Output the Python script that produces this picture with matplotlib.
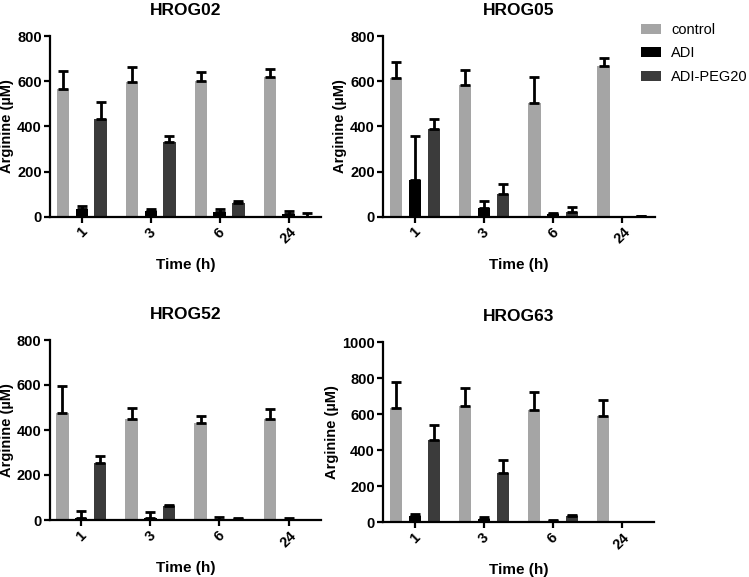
import matplotlib
matplotlib.use('Agg')
import matplotlib.pyplot as plt
import numpy as np

plt.rcParams['font.family'] = ['Liberation Sans', 'DejaVu Sans']

times = ['1', '3', '6', '24']
series = ['control', 'ADI', 'ADI-PEG20']
colors = ['#a5a5a5', '#000000', '#3b3b3b']

# HROG02
hrog02_control = [564, 595, 602, 620]
hrog02_control_err = [81, 67, 40, 33]
hrog02_adi = [34, 25, 21, 13]
hrog02_adi_err = [15, 10, 12, 12]
hrog02_peg = [431, 329, 62, 0]
hrog02_peg_err = [76, 27, 6, 15]

# HROG05
hrog05_control = [613, 582, 502, 667]
hrog05_control_err = [73, 68, 117, 36]
hrog05_adi = [164, 37, 12, 0]
hrog05_adi_err = [193, 31, 6, 0]
hrog05_peg = [387, 100, 22, 3]
hrog05_peg_err = [44, 43, 22, 2]

# HROG52
hrog52_control = [474, 449, 433, 449]
hrog52_control_err = [123, 50, 28, 43]
hrog52_adi = [10, 10, 2, 2]
hrog52_adi_err = [30, 24, 13, 6]
hrog52_peg = [252, 61, 5, 0]
hrog52_peg_err = [34, 6, 3, 0]

# HROG63
hrog63_control = [633, 644, 622, 589]
hrog63_control_err = [148, 100, 102, 92]
hrog63_adi = [33, 20, 6, 2]
hrog63_adi_err = [13, 11, 7, 2]
hrog63_peg = [455, 274, 35, 0]
hrog63_peg_err = [86, 70, 8, 0]

panels = [
    ('HROG02', [hrog02_control, hrog02_adi, hrog02_peg],
     [hrog02_control_err, hrog02_adi_err, hrog02_peg_err], 800, 200,
     [50 / 749, 1 - 216.7 / 577, 271 / 749, 180.7 / 577]),
    ('HROG05', [hrog05_control, hrog05_adi, hrog05_peg],
     [hrog05_control_err, hrog05_adi_err, hrog05_peg_err], 800, 200,
     [383.3 / 749, 1 - 216.7 / 577, 271.5 / 749, 180.7 / 577]),
    ('HROG52', [hrog52_control, hrog52_adi, hrog52_peg],
     [hrog52_control_err, hrog52_adi_err, hrog52_peg_err], 800, 200,
     [49.5 / 749, 1 - 520 / 577, 271.5 / 749, 180 / 577]),
    ('HROG63', [hrog63_control, hrog63_adi, hrog63_peg],
     [hrog63_control_err, hrog63_adi_err, hrog63_peg_err], 1000, 200,
     [383.3 / 749, 1 - 522.3 / 577, 271 / 749, 180 / 577]),
]

fig = plt.figure(figsize=(7.49, 5.77), dpi=100)

x = np.arange(len(times))
offset = 0.2725
width = 0.178
handles = None

for title, vals, errs, ymax, ystep, rect in panels:
    ax = fig.add_axes(rect)
    bars = []
    for i in range(3):
        pos = x + (i - 1) * offset
        b = ax.bar(pos, vals[i], width, color=colors[i], label=series[i], zorder=2)
        bars.append(b)
        ax.errorbar(pos, vals[i], yerr=[np.zeros(len(times)), errs[i]],
                    fmt='none', ecolor='black', elinewidth=2, capsize=3.5,
                    capthick=2, zorder=3)
    if handles is None:
        handles = bars
    ax.set_xlim(-0.46, 3.47)
    ax.set_ylim(0, ymax)
    ax.set_yticks(np.arange(0, ymax + 1, ystep))
    ax.set_xticks(x)
    ax.set_xticklabels(times, rotation=45, ha='center', fontweight='bold', fontsize=10.5)
    for lbl in ax.get_yticklabels():
        lbl.set_fontweight('bold')
        lbl.set_fontsize(10.5)
    ax.spines['top'].set_visible(False)
    ax.spines['right'].set_visible(False)
    ax.spines['left'].set_linewidth(1.6)
    ax.spines['bottom'].set_linewidth(1.6)
    ax.tick_params(axis='both', width=1.6, length=4, pad=2)
    ax.set_title(title, fontweight='bold', fontsize=12.5, pad=15)
    ax.set_ylabel('Arginine (µM)', fontweight='bold', fontsize=10.5, labelpad=2)
    ax.set_xlabel('Time (h)', fontweight='bold', fontsize=11, labelpad=8)

fig.legend(handles, series, loc='upper left', bbox_to_anchor=(641 / 749, 1 - 23 / 577),
           frameon=False, fontsize=10.5, handlelength=1.35, handleheight=0.65,
           labelspacing=0.65, handletextpad=0.7, borderpad=0, borderaxespad=0)

fig.savefig('out.png', dpi=100)
